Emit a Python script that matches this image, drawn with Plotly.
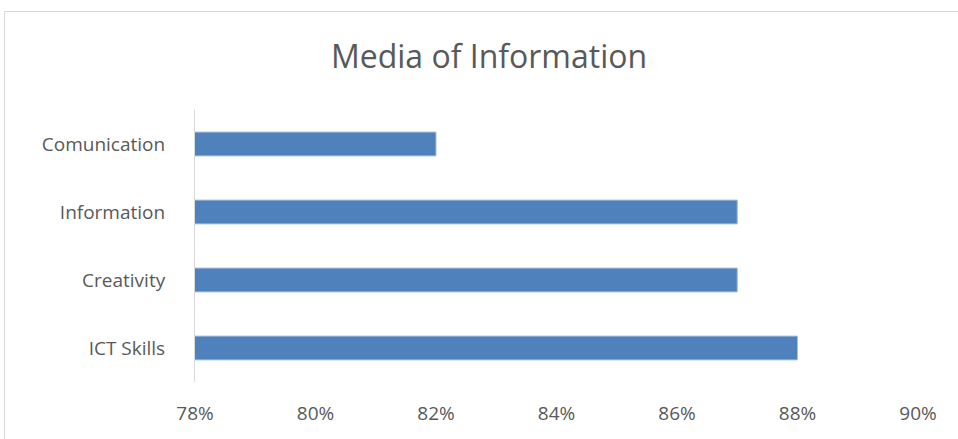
import plotly.graph_objects as go

categories = ["Comunication", "Information", "Creativity", "ICT Skills"]
values = [0.82, 0.87, 0.87, 0.88]
tick_vals = [0.78, 0.80, 0.82, 0.84, 0.86, 0.88, 0.90]
tick_text = ["78%", "80%", "82%", "84%", "86%", "88%", "90%"]

W, H = 958, 439
ml, mr, mt, mb = 195, 40, 110, 57
pw, ph = W - ml - mr, H - mt - mb

fig = go.Figure(go.Bar(
    x=values, y=categories, orientation="h",
    marker=dict(color="#4F81BD", line=dict(color="#A7BFDE", width=1)),
    width=0.35,
))

def px2x(p):
    return (p - ml) / pw

def py2y(p):
    return 1 - (p - mt) / ph

fig.update_layout(
    width=W, height=H,
    margin=dict(l=ml, r=mr, t=mt, b=mb),
    paper_bgcolor="white", plot_bgcolor="white",
    showlegend=False,
    title=dict(text="Media of Information", x=(489) / W, xanchor="center",
               y=1 - 57 / H, yanchor="middle",
               font=dict(family="Open Sans", size=32, color="#595959")),
    font=dict(family="Open Sans", color="#595959", size=19),
    xaxis=dict(range=[0.78, 0.90], tickvals=tick_vals, ticktext=tick_text,
               showgrid=False, zeroline=False, showline=False, ticks="",
               ticklabelstandoff=18, tickfont=dict(size=19, color="#595959")),
    yaxis=dict(categoryorder="array", categoryarray=categories[::-1],
               showgrid=False, zeroline=False, showline=True, linecolor="#D9D9D9",
               linewidth=1, ticks="", ticklabelstandoff=25,
               tickfont=dict(size=19, color="#595959")),
    shapes=[dict(type="rect", xref="paper", yref="paper",
                 x0=px2x(4.5), x1=px2x(W + 10), y0=py2y(11.5), y1=py2y(H + 10),
                 line=dict(color="#D9D9D9", width=1), fillcolor="rgba(0,0,0,0)",
                 layer="below")],
)

fig.write_html("out.html")
